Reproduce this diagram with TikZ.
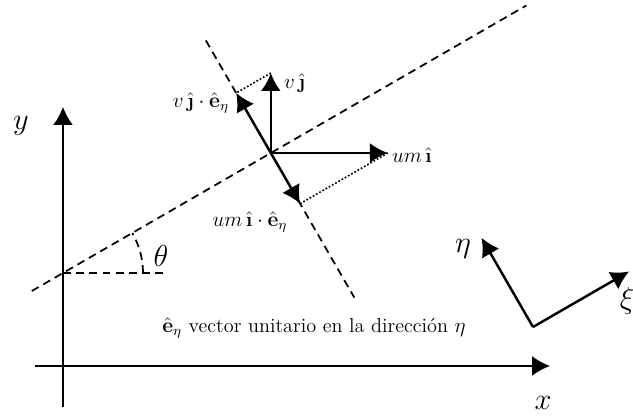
\documentclass[tikz,border=0pt]{standalone}
\usetikzlibrary{arrows.meta,calc}
\tikzset{
  vec/.style={line width=1.4pt,-{Latex[length=3.6mm,width=4mm]}},
  axis/.style={line width=1pt,-{Latex[length=3.6mm,width=4mm]}},
  guide/.style={line width=1pt,dash pattern=on 4.5pt off 3pt},
  proj/.style={line width=0.9pt,dash pattern=on 1pt off 1.1pt},
  lbl/.style={font=\fontsize{11.5}{14}\selectfont,inner sep=1pt},
  axlbl/.style={font=\fontsize{16}{18}\selectfont,inner sep=0pt}
}
\begin{document}
\begin{tikzpicture}
\useasboundingbox (0,0) rectangle (12.66,8.32);
\coordinate (A) at (1.26,2.86);
\coordinate (C) at ($(A)+(30:4.8)$);
\coordinate (Vj) at ($(C)+(0,1.6)$);
\coordinate (Ui) at ($(C)+(2.34,0)$);
\coordinate (Veta) at ($(C)+(120:1.386)$);
\coordinate (Ueta) at ($(C)+(-60:1.17)$);
\coordinate (E) at (10.66,1.78);

% ejes x, y
\draw[axis] (1.26,0.18) -- (1.26,6.18);
\draw[axis] (0.70,1.00) -- (11.00,1.00);

% lineas de referencia
\draw[guide] ($(A)+(210:0.72)$) -- ($(A)+(30:10.7)$);
\draw[guide] (A) -- ($(A)+(2.0,0)$);
\draw[guide] ($(A)+(1.6,0)$) arc (0:30:1.6);
\draw[guide] ($(C)+(120:2.6)$) -- ($(C)+(-60:3.34)$);

% vectores
\draw[vec] (C) -- (Vj);
\draw[vec] (C) -- (Ui);
\draw[vec] (C) -- (Veta);
\draw[vec] (C) -- (Ueta);
\draw[proj] (Vj) -- (Veta);
\draw[proj] (Ui) -- (Ueta);

% ejes eta, xi
\draw[vec] (E) -- ++(120:2.06) coordinate (Etip);
\draw[vec] (E) -- ++(30:2.22) coordinate (Xtip);

\node[axlbl] (ylbl) at (0.42,5.80) {$y$};
\node[axlbl] (xlbl) at (10.86,0.26) {$x$};
\node[axlbl] (thlbl) at (3.22,3.20) {$\theta$};
\node[lbl,anchor=west] (vjlbl) at (5.64,6.66) {$v\,\hat{\textbf{\j}}$};
\node[lbl,anchor=east] (vetalbl) at (4.62,6.26) {$v\,\hat{\textbf{\j}}\cdot\hat{\mathbf{e}}_\eta$};
\node[lbl,anchor=west] (uilbl) at (7.80,5.22) {$um\,\hat{\textbf{\i}}$};
\node[lbl] (uetalbl) at (5.0,3.88) {$um\,\hat{\textbf{\i}}\cdot\hat{\mathbf{e}}_\eta$};
\node[lbl] (nota) at (6.28,1.76) {$\hat{\mathbf{e}}_\eta$ vector unitario en la dirección $\eta$};
\node[axlbl] (etalbl) at (9.26,3.34) {$\eta$};
\node[axlbl] (xilbl) at (12.54,2.30) {$\xi$};
\end{tikzpicture}
\end{document}
